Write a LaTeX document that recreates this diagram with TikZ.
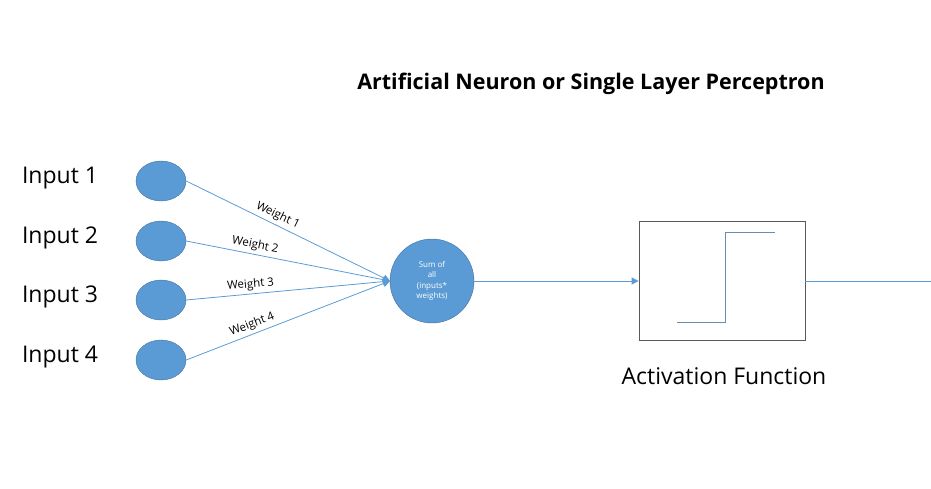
\documentclass[tikz,border=0pt]{standalone}
\usepackage{fontspec}
\setmainfont{Open Sans}
\usetikzlibrary{arrows.meta}
\usetikzlibrary{shapes.geometric}
\definecolor{nfill}{HTML}{5B9BD5}
\definecolor{nedge}{HTML}{41719C}
\tikzset{
  x=1pt, y=-1pt,
  inp/.style={draw=nedge, fill=nfill, ellipse, minimum width=50pt, minimum height=40pt, inner sep=0pt},
  lbl/.style={font=\fontsize{23}{26}\selectfont},
  wire/.style={draw=nfill, line width=0.8pt},
  arr/.style={wire, -{Triangle[length=7pt,width=7pt]}},
  wt/.style={font=\fontsize{11.5}{13}\selectfont, sloped, above, inner sep=3pt}
}
\begin{document}
\begin{tikzpicture}
\useasboundingbox (0,0) rectangle (931,489);
\node[font=\fontsize{21.5}{26}\selectfont\bfseries] (title) at (591,84) {Artificial Neuron or Single Layer Perceptron};
\foreach \i/\y in {1/181,2/241,3/300,4/360}{
  \node[inp] (in\i) at (161,\y) {};
  \node[lbl] (l\i) at (60,\y-3) {Input \i};
}
\node[circle, draw=nedge, fill=nfill, minimum size=84pt, inner sep=0pt, align=center,
      text=white, font=\fontsize{8}{10.5}\selectfont] (sum) at (432,281) {Sum of\\all\\(inputs*\\weights)};
\coordinate (tip) at (390,281);
\draw[arr] (in1.east) -- node[wt, pos=0.43] {Weight 1} (tip);
\draw[arr] (in2.east) -- node[wt, pos=0.33] {Weight 2} (tip);
\draw[arr] (in3.east) -- node[wt, pos=0.32] {Weight 3} (tip);
\draw[arr] (in4.east) -- node[wt, pos=0.34] {Weight 4} (tip);
\node[draw=black!65, line width=0.8pt, minimum width=166pt, minimum height=119pt, inner sep=0pt] (act) at (722,281) {};
\draw[draw=nedge!80, line width=0.8pt] (677,322) -- (725,322) -- (725,232) -- (775,232);
\node[lbl] (actl) at (724,376) {Activation Function};
\draw[arr] (sum.east) -- (act.west);
\coordinate (out) at (931,281);
\draw[wire] (act.east) -- (out);
\end{tikzpicture}
\end{document}
